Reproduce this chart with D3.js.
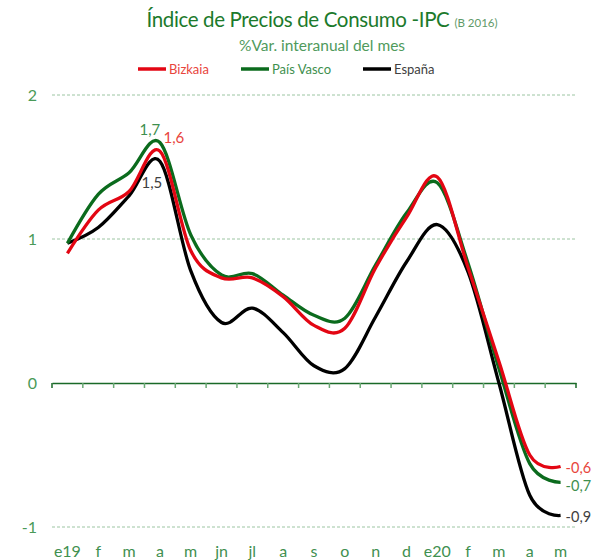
<!DOCTYPE html>
<html>
<head>
<meta charset="utf-8">
<script src="https://cdn.jsdelivr.net/npm/d3@7"></script>
<style>
  body { margin: 0; background: #fff; }
  svg { font-family: Lato, "Open Sans", sans-serif; }
</style>
</head>
<body>
<div id="chart"></div>
<script>
const months = ["e19", "f", "m", "a", "m", "jn", "jl", "a", "s", "o", "n", "d", "e20", "f", "m", "a", "m"];
const bizkaia = [0.9, 1.2, 1.33, 1.61, 0.92, 0.73, 0.73, 0.6, 0.4, 0.38, 0.8, 1.15, 1.43, 0.8, 0.15, -0.5, -0.58];
const paisVasco = [0.97, 1.31, 1.46, 1.67, 1.03, 0.75, 0.76, 0.61, 0.47, 0.45, 0.82, 1.18, 1.39, 0.83, 0.1, -0.56, -0.69];
const espana = [0.97, 1.08, 1.3, 1.54, 0.78, 0.42, 0.52, 0.35, 0.12, 0.1, 0.46, 0.84, 1.1, 0.77, 0.0, -0.78, -0.92];
const yTicks = [-1, 0, 1, 2];

const width = 594;
const height = 560;

const series = [
  { name: "Bizkaia", values: bizkaia, color: "#e30613", text: "#e8453c", dy: 1 },
  { name: "País Vasco", values: paisVasco, color: "#0b6b1d", text: "#3e8f4e", dy: 4 },
  { name: "España", values: espana, color: "#000000", text: "#404040", dy: 1 }
];

const x = d3.scaleBand()
  .domain(d3.range(months.length))
  .range([52, 576])
  .padding(0);

const y = d3.scaleLinear()
  .domain([-1, 2])
  .range([527, 95]);

const svg = d3.select("#chart")
  .append("svg")
  .attr("width", width)
  .attr("height", height);

// titles
const title = svg.append("text")
  .attr("x", 322)
  .attr("y", 27)
  .attr("text-anchor", "middle")
  .attr("fill", "#1c7a2c")
  .style("font-size", "20.5px")
  .style("letter-spacing", "-0.35px");
title.append("tspan").text("Índice de Precios de Consumo -IPC ");
title.append("tspan")
  .attr("fill", "#5f9a68")
  .style("font-size", "11.5px")
  .style("letter-spacing", "0px")
  .text("(B 2016)");

svg.append("text")
  .attr("x", 322)
  .attr("y", 51)
  .attr("text-anchor", "middle")
  .attr("fill", "#4f9a5c")
  .style("font-size", "15.5px")
  .text("%Var. interanual del mes");

// legend
const legendX = [138, 241, 363];
series.forEach((s, i) => {
  const g = svg.append("g").attr("transform", `translate(${legendX[i]},69)`);
  g.append("line")
    .attr("x1", 0).attr("x2", 28)
    .attr("stroke", s.color)
    .attr("stroke-width", 3.5);
  g.append("text")
    .attr("x", 31)
    .attr("dy", "0.35em")
    .attr("fill", s.text)
    .style("font-size", "13px")
    .text(s.name);
});

// gridlines
svg.append("g")
  .selectAll("line")
  .data(yTicks.filter(d => d !== 0))
  .join("line")
  .attr("x1", 52).attr("x2", 576)
  .attr("y1", d => y(d)).attr("y2", d => y(d))
  .attr("stroke", "#9cc5a2")
  .attr("stroke-width", 1)
  .attr("stroke-dasharray", "3,2");

// y labels
svg.append("g")
  .selectAll("text")
  .data(yTicks)
  .join("text")
  .attr("x", 37)
  .attr("y", d => y(d))
  .attr("dy", "0.35em")
  .attr("text-anchor", "end")
  .attr("fill", "#4a9a58")
  .style("font-size", "16px")
  .text(d => d);

// zero axis with ticks at category boundaries
const xAxis = d3.axisBottom(x)
  .tickSize(0)
  .tickFormat("");
const axisG = svg.append("g")
  .attr("transform", `translate(0,${y(0)})`)
  .call(xAxis);
axisG.select(".domain").attr("stroke", "#1a6a28").attr("stroke-width", 1.5);
axisG.selectAll(".tick").remove();
axisG.selectAll(".bound")
  .data(d3.range(months.length + 1))
  .join("line")
  .attr("x1", d => 52 + d * x.step())
  .attr("x2", d => 52 + d * x.step())
  .attr("y1", 0).attr("y2", 5)
  .attr("stroke", d => (d === 0 || d === months.length) ? "#1a6a28" : "#6aa874")
  .attr("stroke-width", 1.5);

// month labels
svg.append("g")
  .selectAll("text")
  .data(months)
  .join("text")
  .attr("x", (d, i) => x(i) + x.bandwidth() / 2)
  .attr("y", 557)
  .attr("text-anchor", "middle")
  .attr("fill", "#3f9050")
  .style("font-size", "16px")
  .text(d => d);

// lines
const line = d3.line()
  .x((d, i) => x(i) + x.bandwidth() / 2)
  .y(d => y(d))
  .curve(d3.curveCardinal.tension(0));

[series[2], series[1], series[0]].forEach(s => {
  svg.append("path")
    .datum(s.values)
    .attr("fill", "none")
    .attr("stroke", s.color)
    .attr("stroke-width", 3.3)
    .attr("stroke-linejoin", "round")
    .attr("d", line);
});

// value labels
const fmt = v => d3.format(".1f")(v).replace(".", ",").replace("−", "-");
const peak = 3;
const last = months.length - 1;
const cx = i => x(i) + x.bandwidth() / 2;

svg.append("text")
  .attr("x", cx(peak) - 10).attr("y", y(paisVasco[peak]) - 8)
  .attr("text-anchor", "middle").attr("fill", series[1].text)
  .style("font-size", "15px").text(fmt(paisVasco[peak]));
svg.append("text")
  .attr("x", cx(peak) + 14).attr("y", y(bizkaia[peak]) - 8)
  .attr("text-anchor", "middle").attr("fill", series[0].text)
  .style("font-size", "15px").text(fmt(bizkaia[peak]));
svg.append("text")
  .attr("x", cx(peak) - 8).attr("y", y(espana[peak]) + 27)
  .attr("text-anchor", "middle").attr("fill", series[2].text)
  .style("font-size", "15px").text(fmt(espana[peak]));

series.forEach(s => {
  svg.append("text")
    .attr("x", cx(last) + 5)
    .attr("y", y(s.values[last]) + s.dy)
    .attr("dy", "0.35em")
    .attr("fill", s.text)
    .style("font-size", "14.5px")
    .text(fmt(s.values[last]));
});
</script>
</body>
</html>
